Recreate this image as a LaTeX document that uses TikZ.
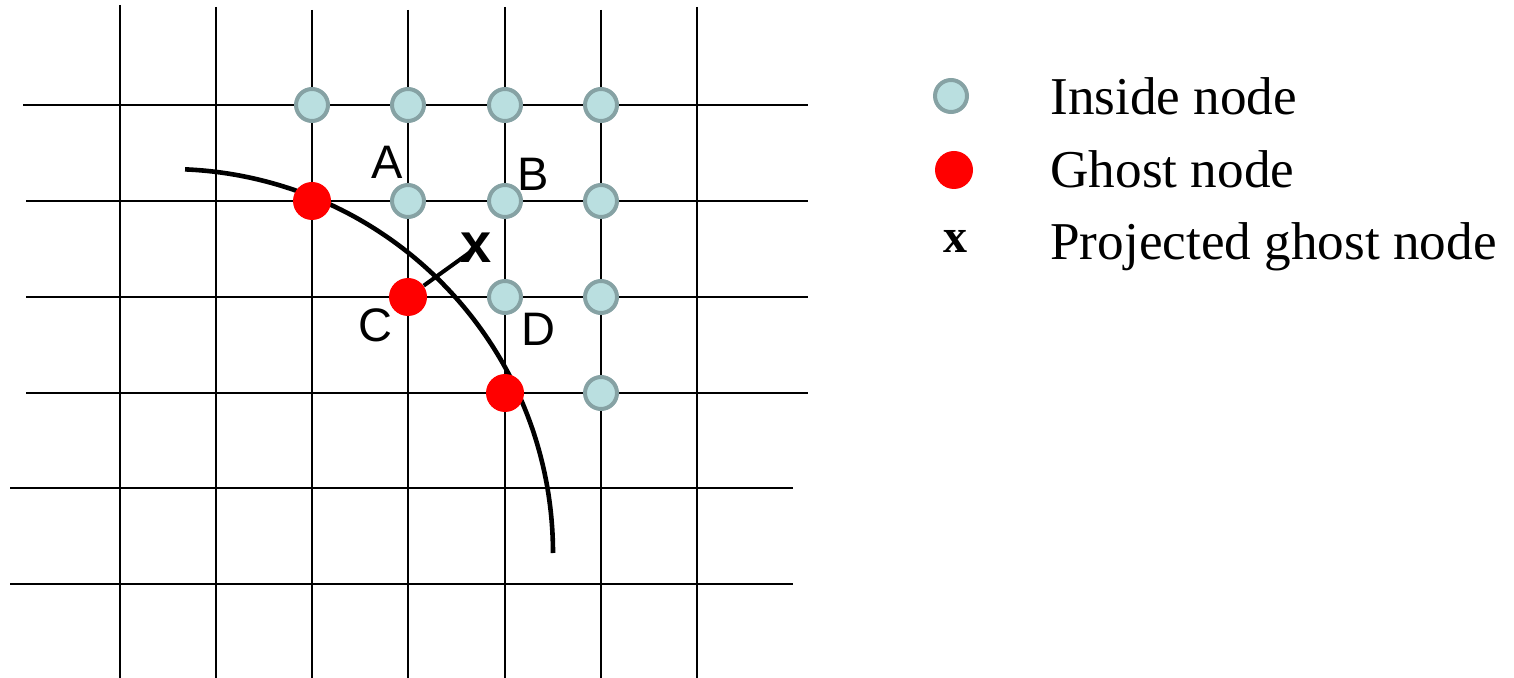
\documentclass[tikz,border=0pt]{standalone}
\usepackage{fontspec}
\setmainfont{Liberation Serif}
\newfontfamily\labelfont{Liberation Sans}
\definecolor{insidefill}{RGB}{186,223,224}
\definecolor{insideborder}{RGB}{134,162,164}
\begin{document}
\begin{tikzpicture}[x=0.5pt,y=-0.5pt,
  gridline/.style={line width=1pt, black},
  boundary/.style={line width=2.3pt, black},
  inside/.style={circle, draw=insideborder, fill=insidefill, line width=2pt, minimum size=16pt, inner sep=0pt},
  ghost/.style={circle, fill=red, minimum size=19pt, inner sep=0pt},
  lbl/.style={font=\labelfont\fontsize{23.5}{28}\selectfont, inner sep=0pt},
  xmark/.style={font=\labelfont\bfseries\fontsize{28}{32}\selectfont, inner sep=0pt},
  legx/.style={font=\bfseries\fontsize{24}{28}\selectfont, inner sep=0pt},
  legendtext/.style={font=\fontsize{26.6}{32}\selectfont, anchor=base west, inner sep=0pt}]
\useasboundingbox (0,0) rectangle (1514,678);
% grid
\foreach \x/\t in {120/5,216/7,312/10,408/10,505/7,601/10,697/7}
  \draw[gridline] (\x,\t) -- (\x,678);
\foreach \y/\l/\r in {105/23/808,201/26/808,297/26/808,393/26/808,488/10/793,584/10/793}
  \draw[gridline] (\l,\y) -- (\r,\y);
% boundary curve
\draw[boundary, domain=-87.6:0, samples=80, smooth] plot ({169+384*cos(\x)},{553+384*sin(\x)});
% inside nodes
\node[inside] (i11) at (312,105) {};
\node[inside] (i12) at (408,105) {};
\node[inside] (i13) at (505,105) {};
\node[inside] (i14) at (601,105) {};
\node[inside] (nA) at (408,201) {};
\node[inside] (nB) at (505,201) {};
\node[inside] (i24) at (601,201) {};
\node[inside] (nD) at (505,297) {};
\node[inside] (i34) at (601,297) {};
\node[inside] (i44) at (601,393) {};
% ghost nodes
\node[ghost] (g1) at (312,201) {};
\node[ghost] (gC) at (408,297) {};
\node[ghost] (g3) at (505,393) {};
% labels
\node[lbl] (lA) at (387,162) {A};
\node[lbl] (lB) at (533,174) {B};
\node[lbl] (lC) at (375,325) {C};
\node[lbl] (lD) at (538,329) {D};
% projected ghost node
\node[xmark] (xm) at (476,248) {x};
\draw[line width=2pt] (gC) -- (xm.center);
% legend
\node[inside] (leg1) at (951,96) {};
\node[ghost] (leg2) at (954,170) {};
\node[legx] (leg3) at (955,241) {x};
\node[legendtext] (t1) at (1050,115) {Inside node};
\node[legendtext] (t2) at (1050,188) {Ghost node};
\node[legendtext] (t3) at (1050,260) {Projected ghost node};
\end{tikzpicture}
\end{document}
